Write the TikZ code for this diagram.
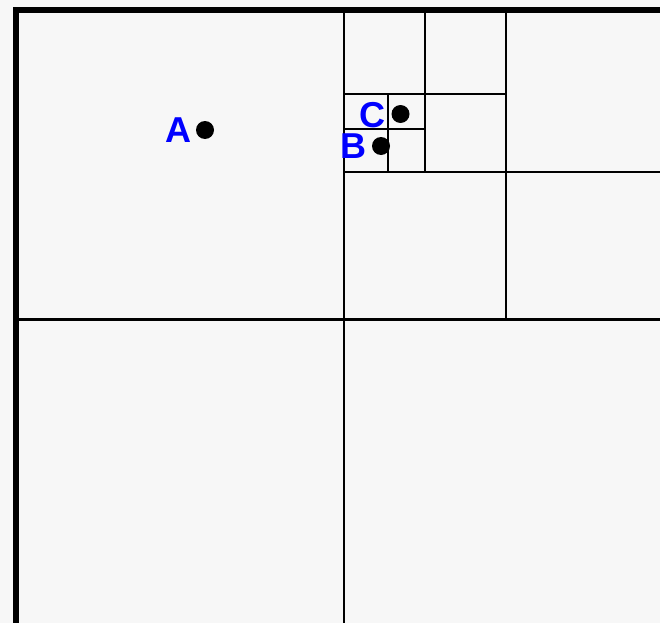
\documentclass[tikz,border=0pt]{standalone}
\usepackage{fontspec}
\setmainfont{Liberation Sans}
\begin{document}
\begin{tikzpicture}[x=1pt,y=-1pt,
  dot/.style={circle,fill=black,inner sep=0pt,minimum size=18pt},
  lbl/.style={text=blue,font=\fontsize{36}{36}\selectfont\bfseries,inner sep=0pt},
  thickb/.style={line width=6pt},
  mainl/.style={line width=2.6pt},
  subl/.style={line width=2pt}]
\fill[fill={rgb,255:red,247;green,247;blue,247}] (0,0) rectangle (660,623);
\useasboundingbox (0,0) rectangle (660,623);
% outer border
\draw[thickb] (16,10) -- (16,623);
\draw[thickb] (13,10) -- (660,10);
% main split
\draw[mainl] (344,10) -- (344,623);
\draw[mainl] (16,319.5) -- (660,319.5);
% level 2
\draw[subl] (506,10) -- (506,319.5);
\draw[subl] (344,172) -- (660,172);
% level 3
\draw[subl] (425,10) -- (425,172);
\draw[subl] (344,94) -- (506,94);
% level 4
\draw[subl] (388,94) -- (388,172);
\draw[subl] (344,128.5) -- (425,128.5);
% points
\node[dot] (a) at (205,130) {};
\node[dot] (c) at (400.5,114) {};
\node[dot] (b) at (381,146) {};
\node[lbl] (la) at (178,130) {A};
\node[lbl] (lc) at (372,115) {C};
\node[lbl] (lb) at (353.5,146.5) {B};
\end{tikzpicture}
\end{document}
